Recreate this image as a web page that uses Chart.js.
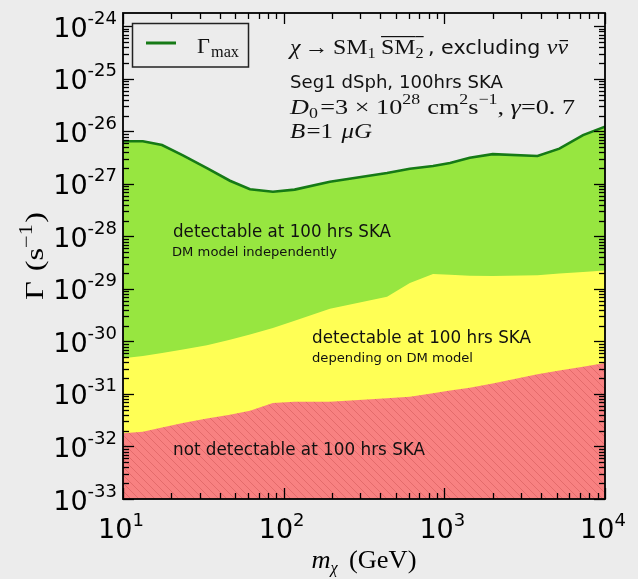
<!DOCTYPE html>
<html>
<head>
<meta charset="utf-8">
<script src="https://cdn.jsdelivr.net/npm/chart.js@4.4.1/dist/chart.umd.min.js"></script>
<style>
  html, body { margin: 0; padding: 0; background: #ececec; }
  #wrap { width: 638px; height: 579px; position: relative; }
</style>
</head>
<body>
<div id="wrap"><canvas id="decayChart" width="638" height="579"></canvas></div>
<script>
// DM mass grid (GeV) and the three boundaries (s^-1)
const masses = [10, 13.3, 17.5, 23.6, 33.3, 46.3, 61.7, 85.7, 117, 194, 440, 610, 850, 1085, 1440, 2000, 3800, 5200, 7300, 10000];
const gammaMax = [6.5e-27, 6.5e-27, 5.5e-27, 3.5e-27, 2.0e-27, 1.15e-27, 7.9e-28, 7.1e-28, 7.8e-28, 1.1e-27, 1.62e-27, 1.95e-27, 2.19e-27, 2.5e-27, 3.16e-27, 3.7e-27, 3.4e-27, 4.7e-27, 8.5e-27, 1.23e-26];
const modelDependent = [4.8e-31, 5.3e-31, 6.0e-31, 7.0e-31, 8.5e-31, 1.08e-30, 1.35e-30, 1.81e-30, 2.47e-30, 4.2e-30, 7.1e-30, 1.3e-29, 1.93e-29, 1.86e-29, 1.79e-29, 1.77e-29, 1.83e-29, 1.97e-29, 2.11e-29, 2.25e-29];
const notDetectable = [1.78e-32, 1.91e-32, 2.29e-32, 2.8e-32, 3.4e-32, 4.0e-32, 4.8e-32, 6.7e-32, 7.1e-32, 7.1e-32, 8.3e-32, 8.9e-32, 1.03e-31, 1.16e-31, 1.32e-31, 1.59e-31, 2.37e-31, 2.8e-31, 3.3e-31, 3.9e-31];

// tick exponents
const xTickExp = [1, 2, 3, 4];
const yTickExp = [-33, -32, -31, -30, -29, -28, -27, -26, -25, -24];

const SERIF = '"Liberation Serif", "DejaVu Serif", serif';
const SANS = '"DejaVu Sans", sans-serif';
const colors = {
    line: '#167a16',
    green: '#97e640',
    yellow: '#ffff55',
    red: '#f88181',
    hatch: '#e46b6b'
};

// hatched red fill
const tile = document.createElement('canvas');
tile.width = 8; tile.height = 8;
const tctx = tile.getContext('2d');
tctx.fillStyle = colors.red;
tctx.fillRect(0, 0, 8, 8);
tctx.strokeStyle = colors.hatch;
tctx.lineWidth = 1;
tctx.beginPath();
tctx.moveTo(-1, -1); tctx.lineTo(9, 9);
tctx.moveTo(-1, 7); tctx.lineTo(1, 9);
tctx.moveTo(7, -1); tctx.lineTo(9, 1);
tctx.stroke();
const hatch = tctx.createPattern(tile, 'repeat');

function pts(vals) {
    return masses.map((m, i) => ({ x: m, y: vals[i] }));
}

// draw a run of text pieces, optionally stretched to a target width
function drawParts(ctx, parts, x, y, target, align) {
    let total = 0;
    parts.forEach(p => {
        ctx.font = p.f;
        p.w = ctx.measureText(p.t).width;
        total += p.w + (p.gap || 0);
    });
    const s = target ? target / total : 1;
    const width = total * s;
    let x0 = x;
    if (align === 'center') x0 = x - width / 2;
    if (align === 'right') x0 = x - width;
    ctx.save();
    ctx.translate(x0, y);
    ctx.scale(s, 1);
    let cx = 0;
    parts.forEach(p => {
        ctx.font = p.f;
        ctx.fillText(p.t, cx, p.dy || 0);
        if (p.bar !== undefined) ctx.fillRect(cx + (p.barPad || 0), p.bar, p.w - (p.barPad || 0), 1.2);
        cx += p.w + (p.gap || 0);
    });
    ctx.restore();
}

const framePlugin = {
    id: 'framePlugin',
    afterDraw(chart) {
        const { ctx, chartArea: a, scales: { x, y } } = chart;
        ctx.save();
        ctx.strokeStyle = '#000';
        ctx.fillStyle = '#000';

        function seg(x1, y1, x2, y2) {
            ctx.beginPath(); ctx.moveTo(x1, y1); ctx.lineTo(x2, y2); ctx.stroke();
        }

        // x ticks (bottom + top)
        ctx.lineWidth = 1.3;
        xTickExp.forEach(e => {
            for (let k = 1; k <= 9; k++) {
                const v = Number(k + 'e' + e);
                if (v > x.max * 1.0001) break;
                const px = Math.round(x.getPixelForValue(v)) + 0.5;
                const len = k === 1 ? 11 : 6;
                seg(px, a.bottom, px, a.bottom - len);
                seg(px, a.top, px, a.top + len);
            }
        });
        // y ticks (left + right)
        yTickExp.forEach(e => {
            for (let k = 1; k <= 9; k++) {
                const v = Number(k + 'e' + e);
                if (v > y.max) break;
                const py = Math.round(y.getPixelForValue(v)) + 0.5;
                const len = k === 1 ? 11 : 6;
                seg(a.left, py, a.left + len, py);
                seg(a.right, py, a.right - len, py);
            }
        });

        // frame
        ctx.lineWidth = 1.8;
        ctx.strokeRect(a.left, a.top, a.right - a.left, a.bottom - a.top);

        // tick labels
        ctx.textBaseline = 'alphabetic';
        xTickExp.forEach(e => {
            const px = x.getPixelForValue(Number('1e' + e));
            drawParts(ctx, [
                { t: '10', f: '27px ' + SANS },
                { t: String(e), f: '18px ' + SANS, dy: -12 }
            ], px - 2, 538, null, 'center');
        });
        yTickExp.forEach(e => {
            const py = y.getPixelForValue(Number('1e' + e));
            drawParts(ctx, [
                { t: '10', f: '27px ' + SANS },
                { t: String(e), f: '18px ' + SANS, dy: -13 }
            ], 117, py + 10.5, null, 'right');
        });

        // axis titles
        drawParts(ctx, [
            { t: 'm', f: 'italic 26px ' + SERIF },
            { t: 'χ', f: 'italic 16px ' + SERIF, dy: 5, gap: 11 },
            { t: '(GeV)', f: '26px ' + SERIF }
        ], (a.left + a.right) / 2, 568, 105, 'center');

        ctx.save();
        ctx.translate(43, (a.top + a.bottom) / 2);
        ctx.rotate(-Math.PI / 2);
        drawParts(ctx, [
            { t: 'Γ', f: '26px ' + SERIF, gap: 8 },
            { t: '(s', f: '26px ' + SERIF },
            { t: '−1', f: '18px ' + SERIF, dy: -11, gap: 1 },
            { t: ')', f: '26px ' + SERIF }
        ], 0, 0, 88, 'center');
        ctx.restore();

        // legend
        ctx.fillStyle = '#ececec';
        ctx.fillRect(132, 23, 117, 44);
        ctx.lineWidth = 1.5;
        ctx.strokeStyle = '#222';
        ctx.strokeRect(132.5, 23.5, 116, 43.5);
        ctx.strokeStyle = colors.line;
        ctx.lineWidth = 3;
        seg(146, 43, 176, 43);
        ctx.fillStyle = '#111';
        drawParts(ctx, [
            { t: 'Γ', f: '22px ' + SERIF, gap: 1 },
            { t: 'max', f: '16px ' + SERIF, dy: 4 }
        ], 197, 53, 42);

        // annotation block
        drawParts(ctx, [
            { t: 'χ', f: 'italic 22px ' + SERIF, gap: 4 },
            { t: '→', f: '22px ' + SERIF, gap: 4 },
            { t: 'SM', f: '22px ' + SERIF },
            { t: '1', f: '15px ' + SERIF, dy: 4, gap: 5 },
            { t: 'SM', f: '22px ' + SERIF, bar: -18 },
            { t: '2', f: '15px ' + SERIF, dy: 4, bar: -18, gap: 4 },
            { t: ', excluding ', f: '19px ' + SANS },
            { t: 'ν', f: 'italic 22px ' + SERIF },
            { t: 'ν', f: 'italic 22px ' + SERIF, bar: -14, barPad: 2 }
        ], 290, 54, 278);
        drawParts(ctx, [
            { t: 'Seg1 dSph, 100hrs SKA', f: '18px ' + SANS }
        ], 290, 88, 213);
        drawParts(ctx, [
            { t: 'D', f: 'italic 22px ' + SERIF },
            { t: '0', f: '15px ' + SERIF, dy: 4, gap: 2 },
            { t: '=3 × 10', f: '22px ' + SERIF },
            { t: '28', f: '15px ' + SERIF, dy: -10, gap: 6 },
            { t: 'cm', f: '22px ' + SERIF },
            { t: '2', f: '15px ' + SERIF, dy: -10 },
            { t: 's', f: '22px ' + SERIF },
            { t: '−1', f: '15px ' + SERIF, dy: -10 },
            { t: ', ', f: '22px ' + SERIF },
            { t: 'γ', f: 'italic 22px ' + SERIF },
            { t: '=0. 7', f: '22px ' + SERIF }
        ], 290, 114, 285);
        drawParts(ctx, [
            { t: 'B', f: 'italic 22px ' + SERIF, gap: 1 },
            { t: '=1 ', f: '22px ' + SERIF, gap: 2 },
            { t: 'μG', f: 'italic 22px ' + SERIF }
        ], 290, 138, 82);

        // region labels
        drawParts(ctx, [{ t: 'detectable at 100 hrs SKA', f: '17px ' + SANS }], 173, 237, 218);
        drawParts(ctx, [{ t: 'DM model independently', f: '12.5px ' + SANS }], 172, 256, 165);
        drawParts(ctx, [{ t: 'detectable at 100 hrs SKA', f: '17px ' + SANS }], 312, 343, 219);
        drawParts(ctx, [{ t: 'depending on DM model', f: '12.5px ' + SANS }], 312, 362, 161);
        drawParts(ctx, [{ t: 'not detectable at 100 hrs SKA', f: '17px ' + SANS }], 173, 455, 252);

        ctx.restore();
    }
};

const ctx = document.getElementById('decayChart').getContext('2d');
const decayChart = new Chart(ctx, {
    type: 'line',
    data: {
        datasets: [
            {
                label: 'Γmax',
                data: pts(gammaMax),
                borderColor: colors.line,
                borderWidth: 2.6,
                backgroundColor: colors.green,
                fill: 'start',
                pointRadius: 0,
                tension: 0,
                order: 3
            },
            {
                label: 'model dependent',
                data: pts(modelDependent),
                borderWidth: 0,
                borderColor: 'rgba(0,0,0,0)',
                backgroundColor: colors.yellow,
                fill: 'start',
                pointRadius: 0,
                tension: 0,
                order: 2
            },
            {
                label: 'not detectable',
                data: pts(notDetectable),
                borderWidth: 0,
                borderColor: 'rgba(0,0,0,0)',
                backgroundColor: hatch,
                fill: 'start',
                pointRadius: 0,
                tension: 0,
                order: 1
            }
        ]
    },
    options: {
        responsive: false,
        animation: false,
        devicePixelRatio: 1,
        layout: { padding: { left: 123, right: 33, top: 13, bottom: 80 } },
        plugins: {
            legend: { display: false },
            tooltip: { enabled: false }
        },
        scales: {
            x: { type: 'logarithmic', min: 10, max: 10000, display: false },
            y: { type: 'logarithmic', min: 1e-33, max: 1.8e-24, display: false }
        }
    },
    plugins: [framePlugin]
});
</script>
</body>
</html>
